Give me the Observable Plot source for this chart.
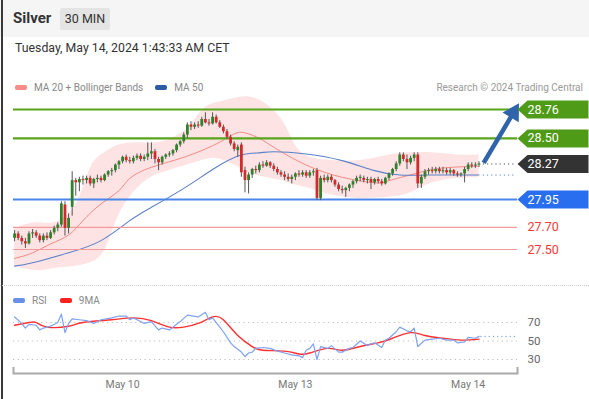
<!DOCTYPE html>
<html><head><meta charset="utf-8">
<script src="https://cdn.jsdelivr.net/npm/d3@7"></script>
<script src="https://cdn.jsdelivr.net/npm/@observablehq/plot@0.6"></script>
<style>
html,body{margin:0;padding:0;background:#fff;}
body{width:589px;height:399px;position:relative;overflow:hidden;font-family:Roboto,"Liberation Sans",sans-serif;}
.abs{position:absolute;}
#hdr{left:0;top:0;width:589px;height:37px;background:#f5f5f5;}
#edge{left:1px;top:0;width:2px;height:399px;background:#3a3a3a;}
#title{left:13px;top:9px;font-size:15px;font-weight:bold;color:#333;}
#badge{left:60px;top:8px;width:50px;height:22px;background:#e4e4e4;border-radius:2px;font-size:12.5px;color:#333;line-height:22px;text-align:center;}
#date{left:15px;top:41px;font-size:12.3px;color:#333;}
.leg{font-size:10px;color:#888;display:flex;align-items:center;white-space:nowrap;}
.sw{display:inline-block;width:12px;height:5px;border-radius:2px;margin-right:7px;}
#main{left:0;top:95px;}
#rsi{left:0;top:290px;}
#sep{left:0;top:285px;width:589px;border-top:1px dotted #cfcfcf;}
svg{overflow:visible;}
</style></head><body>
<div id="hdr" class="abs"></div>
<div id="edge" class="abs"></div>
<div id="title" class="abs">Silver</div>
<div id="badge" class="abs">30 MIN</div>
<div id="date" class="abs">Tuesday, May 14, 2024 1:43:33 AM CET</div>
<div class="abs leg" style="left:15px;top:81px;height:12px;"><span class="sw" style="background:#f88a8a"></span>MA 20 + Bollinger Bands<span class="sw" style="background:#2d5ba3;margin-left:12px"></span>MA 50</div>
<div class="abs leg" style="right:6px;top:81px;height:12px;color:#9a9a9a">Research © 2024 Trading Central</div>
<div id="sep" class="abs"></div>
<div class="abs leg" style="left:13px;top:294px;height:12px;"><span class="sw" style="background:#6a8fe8"></span>RSI<span class="sw" style="background:#ff2020;margin-left:13px"></span>9MA</div>
<div id="main" class="abs"></div>
<div id="rsi" class="abs"></div>
<script>
// ---- candles (30 min) ----
const opens = [27.60,27.64,27.60,27.57,27.55,27.64,27.65,27.62,27.58,27.62,27.60,27.65,27.69,27.72,27.90,27.69,27.88,28.12,28.10,28.13,
28.12,28.14,28.09,28.13,28.14,28.12,28.17,28.20,28.21,28.26,28.29,28.33,28.30,28.29,28.32,28.34,28.31,28.33,28.36,28.38,
28.31,28.28,28.33,28.35,28.36,28.39,28.44,28.47,28.53,28.62,28.60,28.62,28.61,28.67,28.64,28.63,28.69,28.64,28.60,28.56,
28.51,28.45,28.39,28.44,28.21,28.12,28.17,28.22,28.21,28.26,28.25,28.28,28.25,28.22,28.19,28.17,28.15,28.13,28.15,28.18,
28.17,28.19,28.16,28.19,28.21,27.96,28.14,28.12,28.15,28.12,28.08,28.04,28.03,28.05,28.08,28.11,28.14,28.14,28.12,28.13,
28.10,28.13,28.11,28.09,28.14,28.18,28.22,28.27,28.35,28.31,28.28,28.32,28.35,28.09,28.15,28.20,28.21,28.20,28.22,28.20,
28.21,28.19,28.21,28.18,28.17,28.18,28.22,28.26,28.25,28.26];
const highs = [27.67,27.66,27.62,27.60,27.66,27.68,27.67,27.64,27.64,27.65,27.67,27.71,27.74,27.93,27.93,27.82,28.20,28.14,28.15,28.16,
28.16,28.16,28.14,28.17,28.16,28.18,28.21,28.23,28.27,28.30,28.34,28.35,28.33,28.34,28.36,28.36,28.35,28.46,28.46,28.40,
28.33,28.34,28.36,28.38,28.40,28.45,28.48,28.55,28.64,28.65,28.64,28.65,28.69,28.73,28.67,28.73,28.71,28.66,28.62,28.58,
28.53,28.47,28.44,28.46,28.24,28.19,28.23,28.25,28.28,28.29,28.30,28.29,28.27,28.24,28.21,28.20,28.18,28.17,28.19,28.21,
28.21,28.21,28.21,28.22,28.23,28.16,28.17,28.17,28.17,28.13,28.10,28.07,28.06,28.09,28.12,28.16,28.17,28.16,28.15,28.15,
28.14,28.15,28.13,28.15,28.19,28.23,28.29,28.37,28.37,28.35,28.34,28.37,28.37,28.17,28.22,28.23,28.24,28.24,28.24,28.24,
28.23,28.23,28.22,28.20,28.19,28.24,28.28,28.28,28.28,28.29];
const lows = [27.57,27.58,27.54,27.51,27.54,27.60,27.60,27.56,27.56,27.58,27.59,27.63,27.66,27.70,27.62,27.64,27.80,27.98,28.02,28.08,
28.09,28.07,28.05,28.10,28.10,28.11,28.15,28.16,28.19,28.22,28.27,28.28,28.27,28.27,28.30,28.29,28.29,28.30,28.31,28.27,
28.21,28.26,28.31,28.33,28.34,28.37,28.42,28.45,28.50,28.57,28.58,28.59,28.60,28.63,28.61,28.62,28.63,28.59,28.54,28.49,
28.43,28.38,28.33,28.15,28.01,28.00,28.14,28.18,28.19,28.23,28.24,28.23,28.20,28.17,28.15,28.12,28.11,28.09,28.12,28.15,
28.15,28.14,28.14,28.16,27.94,27.94,28.10,28.10,28.10,28.06,28.02,28.00,27.97,28.02,28.05,28.09,28.11,28.10,28.09,28.04,
28.08,28.09,28.07,28.08,28.12,28.16,28.20,28.25,28.29,28.22,28.26,28.29,28.05,28.05,28.13,28.17,28.18,28.18,28.18,28.18,
28.17,28.17,28.16,28.15,28.15,28.10,28.20,28.23,28.23,28.24];
const closes = [27.64,27.60,27.57,27.55,27.64,27.65,27.62,27.58,27.62,27.60,27.65,27.69,27.72,27.91,27.69,27.78,28.12,28.10,28.13,28.12,
28.14,28.09,28.13,28.14,28.12,28.17,28.20,28.21,28.26,28.29,28.33,28.30,28.29,28.32,28.34,28.31,28.33,28.36,28.38,28.31,
28.28,28.33,28.35,28.36,28.39,28.44,28.47,28.53,28.62,28.60,28.62,28.61,28.67,28.64,28.63,28.69,28.64,28.60,28.56,28.51,
28.45,28.40,28.42,28.19,28.12,28.17,28.22,28.21,28.26,28.25,28.28,28.25,28.22,28.19,28.17,28.15,28.13,28.15,28.18,28.17,
28.19,28.16,28.19,28.20,27.96,28.14,28.12,28.15,28.12,28.08,28.04,28.03,28.05,28.08,28.11,28.14,28.15,28.12,28.13,28.10,
28.13,28.11,28.09,28.14,28.18,28.22,28.27,28.35,28.31,28.28,28.32,28.35,28.09,28.15,28.20,28.21,28.20,28.22,28.20,28.21,
28.19,28.21,28.18,28.17,28.18,28.22,28.26,28.25,28.26,28.27];

// ---- indicators (read at candle positions) ----
const bandIdx   = [0,6,11,17,21,25,29,35,41,48,52,56,61,67,74,78,82,88,96,104,110,116,123,129];
const bandUpper = [27.69,27.74,27.74,27.90,28.23,28.37,28.44,28.46,28.47,28.59,28.75,28.82,28.86,28.86,28.68,28.44,28.33,28.30,28.30,28.35,28.37,28.37,28.35,28.35];
const bandLower = [27.35,27.31,27.33,27.35,27.38,27.49,27.81,28.08,28.19,28.26,28.30,28.32,28.26,28.17,28.12,28.08,28.05,27.99,27.96,27.97,28.01,28.10,28.14,28.15];
const ma20Idx = [0,5,10,15,19,24,29,32,38,47,56,61,64,68,72,81,91,100,104,111,118,129];
const ma20Val = [27.42,27.47,27.55,27.63,27.76,27.91,28.03,28.14,28.24,28.33,28.45,28.54,28.55,28.50,28.42,28.26,28.15,28.10,28.12,28.18,28.23,28.25];
const ma50Idx = [0,5,15,24,32,38,47,56,63,68,72,81,91,100,107,115,129];
const ma50Val = [27.35,27.38,27.47,27.58,27.76,27.88,28.05,28.24,28.35,28.37,28.38,28.36,28.30,28.21,28.17,28.17,28.17];

// ---- RSI panel ----
const rsiIdx = [0,2,3,4,6,7,8,10,12,13,14,15,16,18,20,22,24,27,29,31,32,33,35,36,38,40,41,43,45,46,48,51,53,54,55,57,58,60,61,63,64,65,66,67,69,71,73,75,77,79,80,81,82,83,84,85,87,88,90,91,93,94,96,98,99,100,102,103,104,106,107,109,110,111,112,114,116,118,120,122,123,125,126,128,129];
const rsiVal = [76,69,64,68,67,62,64,66,70,79,59,69,74,73,72,69,73,75,77,77,73,75,71,69,71,62,64,62,68,71,78,76,81,73,75,65,60,48,44,38,33,37,38,42,43,42,39,37,35,34,32,40,42,47,30,44,42,45,38,38,42,43,50,45,47,48,43,51,53,60,65,61,60,64,44,51,52,53,51,51,48,49,54,53,55];
const ma9Idx = [0,4,6,9,15,19,27,33,38,43,47,51,55,58,62,66,69,75,79,82,87,91,96,101,105,110,114,119,124,129];
const ma9Val = [67,70,70,65,66,70,73,75,72,65,65,69,76,73,56,44,40,39,36,37,42,40,44,48,53,59,56,53,51,52];
const rsiLevels = [70,50,30];

// ---- levels & labels ----
const levelValues = [28.76,28.50,28.27,27.95,27.70,27.50];
const levelKinds  = ["resistance","resistance","last","pivot","support","support"];
const target = 28.76;
const tickIdx = [30,78,126];
const tickLabels = ["May 10","May 13","May 14"];

// ---- styles ----
const kindStyle = {
  resistance:{line:"#58a51c", width:2.2, tag:"#4f9b17", text:"#fff"},
  last:{line:null, tag:"#333333", text:"#fff"},
  pivot:{line:"#4a86ea", width:2, tag:"#2a6ef0", text:"#fff"},
  support:{line:"#f39a9a", width:1.2, tag:null, text:"#f23a3a"}
};
const UP="#2f8229", DOWN="#d22a2a";
const xDomain = [-0.3, 139.7];
const yDomain = [27.50, 28.76], yRange = [154, 14];
const W = 589;

const idx = d3.range(closes.length);
const last = idx.length - 1;
const levels = levelValues.map((v,i)=>({value:v, kind:levelKinds[i]}));
const band = bandIdx.map((x,i)=>({x, lo:bandLower[i], hi:bandUpper[i]}));
const ma20 = ma20Idx.map((x,i)=>({x, y:ma20Val[i]}));
const ma50 = ma50Idx.map((x,i)=>({x, y:ma50Val[i]}));

// forecast arrow: start after last candle, end at the target tag
const arrow = {x1:last+1.3, y1:closes[last]+0.01, x2:xDomain[1]-0.6, y2:target};
const sx = d3.scaleLinear(xDomain, [13, W-72]), sy = d3.scaleLinear(yDomain, yRange);
const ang = Math.atan2(sx(arrow.x2)-sx(arrow.x1), sy(arrow.y1)-sy(arrow.y2)) * 180/Math.PI;
const headBack = 0.12; // fraction of arrow where the head begins
const shaftEnd = {x: arrow.x2 - (arrow.x2-arrow.x1)*headBack, y: arrow.y2 - (arrow.y2-arrow.y1)*headBack};
const headPos = {x: arrow.x2 - (arrow.x2-arrow.x1)*0.06, y: arrow.y2 - (arrow.y2-arrow.y1)*0.06};

const tagShape = {draw(ctx){ctx.moveTo(0,0);ctx.lineTo(10,-9);ctx.lineTo(71,-9);ctx.lineTo(71,9);ctx.lineTo(10,9);ctx.closePath();}};

const main = Plot.plot({
  width: W, height: 190,
  marginLeft: 13, marginRight: 72, marginTop: 0, marginBottom: 0,
  style: {fontFamily: "Roboto, sans-serif", background: "transparent"},
  x: {domain: xDomain, axis: null},
  y: {domain: yDomain, range: yRange, axis: null},
  marks: [
    Plot.areaY(band, {x:"x", y1:"lo", y2:"hi", curve:"natural", fill:"#fddcdc", fillOpacity:0.8}),
    Plot.line(ma20, {x:"x", y:"y", curve:"natural", stroke:"#f58a84", strokeWidth:1}),
    Plot.line(ma50, {x:"x", y:"y", curve:"natural", stroke:"#5a80c8", strokeWidth:1.1}),
    Plot.ruleY(levels.filter(d=>kindStyle[d.kind].line), {y:"value", stroke:d=>kindStyle[d.kind].line, strokeWidth:d=>kindStyle[d.kind].width}),
    Plot.ruleX(idx, {x:d=>d, y1:d=>lows[d], y2:d=>highs[d], stroke:"#555", strokeWidth:1}),
    Plot.ruleX(idx.filter(d=>closes[d]>=opens[d]), {x:d=>d, y1:d=>opens[d], y2:d=>closes[d], stroke:UP, strokeWidth:2.8}),
    Plot.ruleX(idx.filter(d=>closes[d]<opens[d]), {x:d=>d, y1:d=>opens[d], y2:d=>closes[d], stroke:DOWN, strokeWidth:2.8}),
    Plot.ruleY([closes[last]], {y:d=>d, x1:last+1.2, x2:xDomain[1]-0.5, stroke:"#555", strokeDasharray:"1.2,3"}),
    Plot.ruleY([ma50Val[ma50Val.length-1]], {y:d=>d, x1:last+1.2, x2:xDomain[1]-0.5, stroke:"#5a80c8", strokeDasharray:"1.2,3"}),
    Plot.link([arrow], {x1:"x1", y1:"y1", x2:()=>shaftEnd.x, y2:()=>shaftEnd.y, stroke:"#2f64aa", strokeWidth:4.5}),
    Plot.dot([headPos], {x:"x", y:"y", symbol:"triangle", rotate:ang, r:7, fill:"#2f64aa", stroke:null}),
    Plot.dot(levels.filter(d=>kindStyle[d.kind].tag), {y:"value", frameAnchor:"right", symbol:tagShape, fill:d=>kindStyle[d.kind].tag, stroke:null, r:5}),
    Plot.text(levels, {y:"value", frameAnchor:"right", dx:10, textAnchor:"start", text:d=>d.value.toFixed(2), fill:d=>kindStyle[d.kind].text, fontSize:12.5})
  ]
});
document.getElementById("main").appendChild(main);

const rsiPts = rsiIdx.map((x,i)=>({x, y:rsiVal[i]}));
const ma9 = ma9Idx.map((x,i)=>({x, y:ma9Val[i]}));
const rsi = Plot.plot({
  width: W, height: 109,
  marginLeft: 13, marginRight: 72, marginTop: 0, marginBottom: 26,
  style: {fontFamily: "Roboto, sans-serif", background: "transparent"},
  x: {domain: xDomain},
  y: {domain: [30,70], range: [69,32], axis: null},
  marks: [
    Plot.ruleY(rsiLevels, {stroke:"#bdbdbd", strokeDasharray:"1.2,3.5"}),
    Plot.text(rsiLevels, {y:d=>d, frameAnchor:"right", dx:10, textAnchor:"start", text:d=>String(d), fill:"#666", fontSize:11.5}),
    Plot.line(ma9, {x:"x", y:"y", curve:"natural", stroke:"#ff3030", strokeWidth:1.4}),
    Plot.line(rsiPts, {x:"x", y:"y", stroke:"#7fa2f2", strokeWidth:1.2}),
    Plot.ruleY([rsiVal[rsiVal.length-1]], {y:d=>d, x1:rsiIdx[rsiIdx.length-1]+0.5, x2:xDomain[1]-0.5, stroke:"#6a8fe8", strokeDasharray:"1.2,3"}),
    Plot.frame({anchor:"bottom", stroke:"#aaa", strokeWidth:2}),
    Plot.tickX(xDomain, {x:d=>d, insetTop:77, stroke:"#aaa", strokeWidth:2}),
    Plot.axisX({ticks:tickIdx, tickFormat:d=>tickLabels[tickIdx.indexOf(d)], tickSize:0, tickPadding:7, fontSize:10.5, fill:"#777", label:null})
  ]
});
document.getElementById("rsi").appendChild(rsi);
</script>
</body></html>
